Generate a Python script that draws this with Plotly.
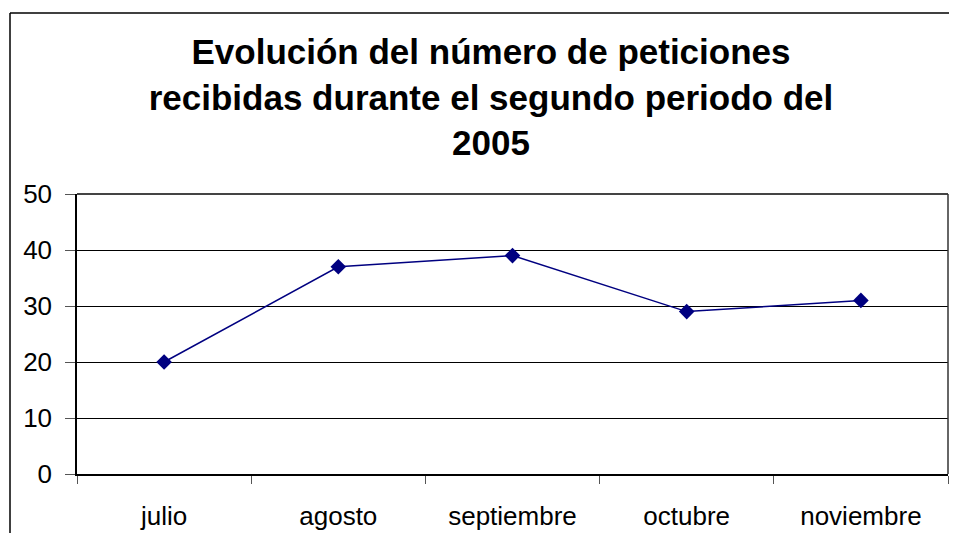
import plotly.graph_objects as go

categories = ["julio", "agosto", "septiembre", "octubre", "noviembre"]
values = [20, 37, 39, 29, 31]
y_ticks = [0, 10, 20, 30, 40, 50]
title_text = "Evolución del número de peticiones<br>recibidas durante el segundo periodo del<br>2005"

OFF = 8  # page body margin
W, H = 957 - OFF, 533 - OFF
L, R, T, B = 77 - OFF, 9, 194 - OFF, 59
pw, ph = W - L - R, H - T - B

def px_x(x):
    return (x - OFF - L) / pw

def px_y(y):
    return (H - B - (y - OFF)) / ph

fig = go.Figure()
fig.add_trace(go.Scatter(
    x=categories, y=values, mode="lines+markers",
    line=dict(color="#000080", width=1.5),
    marker=dict(symbol="diamond", size=12, color="#000080"),
    showlegend=False, cliponaxis=False,
))

font = "Liberation Sans, Arial, sans-serif"
fig.update_layout(
    width=W, height=H,
    margin=dict(l=L, r=R, t=T, b=B, autoexpand=False),
    paper_bgcolor="white", plot_bgcolor="white",
    title=dict(text=title_text, x=px_x(491), xref="paper", xanchor="center",
               y=1 - (64 - OFF) / H, yanchor="middle", automargin=False,
               font=dict(family=font, size=35, color="black", weight="bold")),
    font=dict(family=font, size=26, color="black"),
)
fig.update_xaxes(
    type="category", range=[-0.5, 4.5], automargin=False,
    showline=True, linecolor="black", linewidth=2,
    ticks="outside", tickson="boundaries", ticklen=8, tickcolor="#555", tickwidth=1,
    showgrid=False, ticklabelstandoff=18,
    tickfont=dict(family=font, size=26, color="black"),
)
fig.update_yaxes(
    range=[0, 50], tickvals=y_ticks, automargin=False,
    showline=True, linecolor="black", linewidth=1.5,
    ticks="outside", ticklen=10, tickcolor="#555", tickwidth=1,
    showgrid=True, gridcolor="black", gridwidth=1,
    zeroline=False, ticklabelstandoff=8,
    tickfont=dict(family=font, size=26, color="black"),
)

# plot-area border (top and right)
fig.add_shape(type="line", xref="paper", yref="paper", x0=0, x1=1, y0=1, y1=1,
              line=dict(color="#444", width=2))
fig.add_shape(type="line", xref="paper", yref="paper", x0=1, x1=1, y0=0, y1=1,
              line=dict(color="#333", width=1.5))
# outer chart border (left and top, the rest is outside the picture)
fig.add_shape(type="line", xref="paper", yref="paper",
              x0=px_x(10), x1=px_x(10), y0=px_y(13), y1=px_y(540),
              line=dict(color="black", width=1.5))
fig.add_shape(type="line", xref="paper", yref="paper",
              x0=px_x(10), x1=px_x(965), y0=px_y(13), y1=px_y(13),
              line=dict(color="black", width=1.5))

fig.write_html("out.html")
